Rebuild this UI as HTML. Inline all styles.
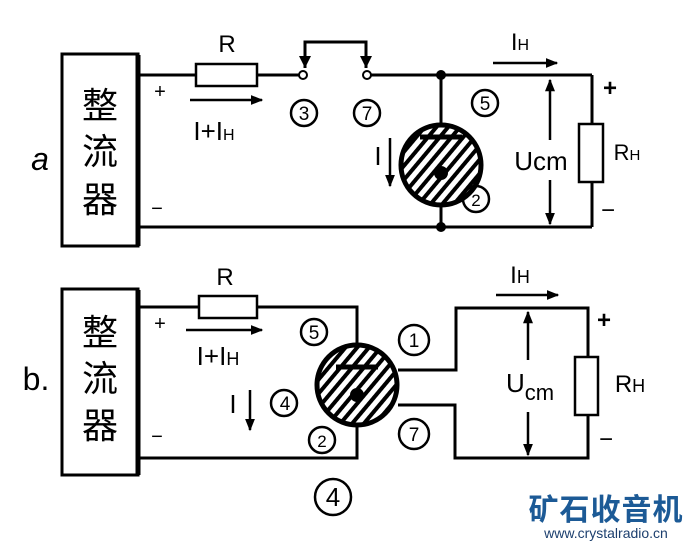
<!DOCTYPE html>
<html><head><meta charset="utf-8"><style>
html,body{margin:0;padding:0;background:#fff;}
svg{display:block;}
text{font-family:"Liberation Sans","Noto Sans CJK SC",sans-serif;fill:#000;}
.cn{font-family:"Liberation Sans","Noto Sans CJK SC",sans-serif;}
</style></head><body>
<svg width="693" height="546" viewBox="0 0 693 546" xmlns="http://www.w3.org/2000/svg">
<defs>
<pattern id="h" patternUnits="userSpaceOnUse" width="9" height="9" patternTransform="rotate(40)">
<rect width="9" height="9" fill="#fff"/><rect width="4" height="9" fill="#000"/>
</pattern>
<marker id="ar" viewBox="0 0 10 10" refX="9" refY="5" markerWidth="5" markerHeight="5" orient="auto"><path d="M0,1 L10,5 L0,9 Z" fill="#000"/></marker>
</defs>
<g stroke="#000" stroke-width="3" fill="none">
<!-- ===== a ===== -->
<rect x="62" y="54" width="76" height="192"/>
<line x1="138" y1="55" x2="138" y2="246" stroke-width="5"/>
<line x1="138" y1="75" x2="196" y2="75"/>
<rect x="196" y="64" width="61" height="22" stroke-width="2.5"/>
<line x1="257" y1="75" x2="299" y2="75"/>
<circle cx="303" cy="75" r="4" stroke-width="2"/>
<circle cx="367" cy="75" r="4" stroke-width="2"/>
<line x1="371" y1="75" x2="592" y2="75"/>
<path d="M305,68 L305,42 L366,42 L366,68" stroke-width="3"/>
<line x1="138" y1="227" x2="592" y2="227"/>
<line x1="441" y1="75" x2="441" y2="227"/>
<circle cx="441" cy="165" r="40" fill="url(#h)" stroke-width="5"/>
<line x1="420" y1="137" x2="462" y2="137" stroke-width="5"/>
<line x1="592" y1="75" x2="592" y2="227"/>
<rect x="579" y="124" width="24" height="58" fill="#fff" stroke-width="2.5"/>
<line x1="550" y1="140" x2="550" y2="80" stroke-width="2.5" marker-end="url(#ar)"/>
<line x1="550" y1="180" x2="550" y2="224" stroke-width="2.5" marker-end="url(#ar)"/>
<line x1="190" y1="100" x2="262" y2="100" stroke-width="2.5" marker-end="url(#ar)"/>
<line x1="493" y1="63" x2="557" y2="63" stroke-width="2.5" marker-end="url(#ar)"/>
<line x1="390" y1="138" x2="390" y2="186" stroke-width="2.5" marker-end="url(#ar)"/>
<circle cx="304" cy="113" r="13" stroke-width="2.5"/>
<circle cx="367" cy="113" r="13" stroke-width="2.5"/>
<circle cx="485" cy="103" r="13" stroke-width="2.5"/>
<circle cx="476" cy="199" r="13" stroke-width="2.5"/>
<!-- ===== b ===== -->
<rect x="62" y="289" width="76" height="186"/>
<line x1="138" y1="290" x2="138" y2="475" stroke-width="5"/>
<line x1="138" y1="307" x2="199" y2="307"/>
<rect x="199" y="296" width="58" height="22" stroke-width="2.5"/>
<polyline points="257,307 357,307 357,345"/>
<polyline points="138,458 357,458 357,425"/>
<polyline points="398,370 456,370 456,308 588,308 588,458 455,458 455,405 398,405"/>
<circle cx="357" cy="385" r="40" fill="url(#h)" stroke-width="5"/>
<line x1="336" y1="367" x2="378" y2="367" stroke-width="5"/>
<rect x="575" y="357" width="23" height="58" fill="#fff" stroke-width="2.5"/>
<line x1="528" y1="360" x2="528" y2="312" stroke-width="2.5" marker-end="url(#ar)"/>
<line x1="528" y1="412" x2="528" y2="455" stroke-width="2.5" marker-end="url(#ar)"/>
<line x1="186" y1="330" x2="262" y2="330" stroke-width="2.5" marker-end="url(#ar)"/>
<line x1="496" y1="295" x2="558" y2="295" stroke-width="2.5" marker-end="url(#ar)"/>
<line x1="250" y1="390" x2="250" y2="430" stroke-width="2.5" marker-end="url(#ar)"/>
<circle cx="314" cy="332" r="13" stroke-width="2.5"/>
<circle cx="414" cy="340" r="15" stroke-width="2.5"/>
<circle cx="284" cy="403" r="13" stroke-width="2.5"/>
<circle cx="322" cy="440" r="13" stroke-width="2.5"/>
<circle cx="414" cy="434" r="15" stroke-width="2.5"/>
<circle cx="333" cy="497" r="18" stroke-width="2.5"/>
</g>
<g fill="#000">
<circle cx="441" cy="75" r="5"/><circle cx="441" cy="227" r="5"/>
<circle cx="441" cy="173" r="7"/><circle cx="357" cy="395" r="7"/>
<path d="M299,56 L311,56 L305,68 Z"/><path d="M360,56 L372,56 L366,68 Z"/>
</g>
<g font-size="20" text-anchor="middle">
<text class="cn" x="100" y="118" font-size="36">整</text>
<text class="cn" x="100" y="164" font-size="36">流</text>
<text class="cn" x="100" y="212" font-size="36">器</text>
<text class="cn" x="100" y="345" font-size="36">整</text>
<text class="cn" x="100" y="391" font-size="36">流</text>
<text class="cn" x="100" y="438" font-size="36">器</text>
<text x="40" y="170" font-size="32" font-style="italic" font-family="Liberation Serif">a</text>
<text x="36" y="390" font-size="32">b.</text>
<text x="160" y="98" font-size="20">+</text>
<text x="157" y="215" font-size="20">−</text>
<text x="160" y="330" font-size="20">+</text>
<text x="157" y="443" font-size="20">−</text>
<text x="227" y="52" font-size="24">R</text>
<text x="225" y="285" font-size="24">R</text>
<text x="214" y="140" font-size="26" font-family="Liberation Serif">I+I<tspan font-size="16" font-family="Liberation Sans">H</tspan></text>
<text x="218" y="365" font-size="26" font-family="Liberation Serif">I+I<tspan font-size="18" font-family="Liberation Sans">H</tspan></text>
<text x="520" y="50" font-size="24" font-family="Liberation Serif">I<tspan font-size="16" font-family="Liberation Sans">H</tspan></text>
<text x="520" y="283" font-size="24" font-family="Liberation Serif">I<tspan font-size="18" font-family="Liberation Sans">H</tspan></text>
<text x="378" y="165" font-size="26" font-family="Liberation Serif">I</text>
<text x="233" y="413" font-size="26" font-family="Liberation Serif">I</text>
<text x="541" y="170" font-size="26">Ucm</text>
<text x="530" y="392" font-size="26">U<tspan font-size="22" dy="8">cm</tspan></text>
<text x="627" y="160" font-size="22">R<tspan font-size="15">H</tspan></text>
<text x="630" y="392" font-size="24">R<tspan font-size="18">H</tspan></text>
<text x="610" y="96" font-size="24" font-weight="bold">+</text>
<text x="608" y="218" font-size="24">−</text>
<text x="604" y="328" font-size="24" font-weight="bold">+</text>
<text x="606" y="447" font-size="24">−</text>
<text x="304" y="120" font-size="19">3</text>
<text x="367" y="120" font-size="19">7</text>
<text x="485" y="110" font-size="19">5</text>
<text x="476" y="206" font-size="17">2</text>
<text x="314" y="339" font-size="19">5</text>
<text x="414" y="347" font-size="19">1</text>
<text x="285" y="410" font-size="19">4</text>
<text x="322" y="447" font-size="17">2</text>
<text x="414" y="441" font-size="19">7</text>
<text x="333" y="506" font-size="26">4</text>
</g>
<text x="606" y="520" text-anchor="middle" font-size="30" font-weight="bold" fill="#1c5a96" style="fill:#1c5a96" class="cn" letter-spacing="1">矿石收音机</text>
<text x="606" y="538" text-anchor="middle" font-size="14" style="fill:#1c3f6e">www.crystalradio.cn</text>
</svg>
</body></html>
